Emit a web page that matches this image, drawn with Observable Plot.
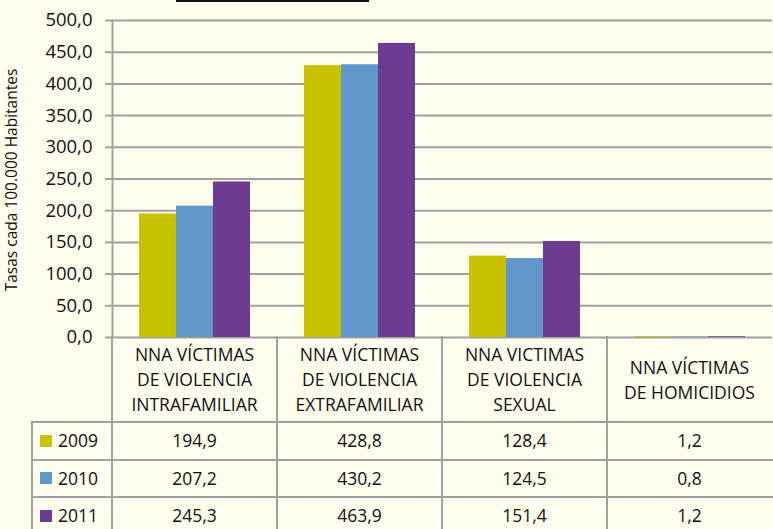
<!DOCTYPE html>
<html>
<head>
<meta charset="utf-8">
<script src="https://cdn.jsdelivr.net/npm/d3@7"></script>
<script src="https://cdn.jsdelivr.net/npm/@observablehq/plot@0.6"></script>
<style>
  html, body { margin: 0; padding: 0; background: #FFFDEE; }
  #wrap { position: relative; width: 773px; height: 529px; overflow: hidden; background: #FFFDEE; font-family: "Open Sans", sans-serif; color: #111; }
  #chart { position: absolute; left: 0; top: 0; }
  .cell { position: absolute; box-sizing: border-box; display: flex; align-items: center; justify-content: center; text-align: center; font-size: 17.5px; line-height: 25px; }
  .vline { position: absolute; width: 2px; background: #A0A0A0; }
  .hline { position: absolute; height: 2px; background: #A0A0A0; }
  #ylabel { position: absolute; left: 11px; top: 180px; transform: translate(-50%, -50%) rotate(-90deg); white-space: nowrap; font-size: 15.5px; }
  #titleline { position: absolute; left: 176px; top: 0; width: 193px; height: 2px; background: #111; }
</style>
</head>
<body>
<div id="wrap">
  <div id="titleline"></div>
  <div id="chart"></div>
  <div id="ylabel">Tasas cada 100.000 Habitantes</div>
</div>
<script>
const categories = [
  "NNA VÍCTIMAS DE VIOLENCIA INTRAFAMILIAR",
  "NNA VÍCTIMAS DE VIOLENCIA EXTRAFAMILIAR",
  "NNA VICTIMAS DE VIOLENCIA SEXUAL",
  "NNA VÍCTIMAS DE HOMICIDIOS"
];
const categoryLines = [
  ["NNA VÍCTIMAS", "DE VIOLENCIA", "INTRAFAMILIAR"],
  ["NNA VÍCTIMAS", "DE VIOLENCIA", "EXTRAFAMILIAR"],
  ["NNA VICTIMAS", "DE VIOLENCIA", "SEXUAL"],
  ["NNA VÍCTIMAS", "DE HOMICIDIOS"]
];
const years = ["2009", "2010", "2011"];
const values2009 = [194.9, 428.8, 128.4, 1.2];
const values2010 = [207.2, 430.2, 124.5, 0.8];
const values2011 = [245.3, 463.9, 151.4, 1.2];
const yTicks = [0, 50, 100, 150, 200, 250, 300, 350, 400, 450, 500];
const colors = ["#C9C200", "#6096C9", "#6D3C91"];

const series = [values2009, values2010, values2011];
const data = [];
years.forEach((yr, i) => categories.forEach((c, j) => data.push({cat: c, year: yr, value: series[i][j]})));

const fmt = v => v.toFixed(1).replace(".", ",");
const gray = "#A0A0A0";

const plot = Plot.plot({
  width: 773,
  height: 350,
  marginLeft: 110,
  marginRight: 0,
  marginTop: 20,
  marginBottom: 13,
  style: {background: "transparent", fontFamily: "Open Sans, sans-serif", color: "#111"},
  fx: {domain: categories, padding: 0, axis: null},
  x: {domain: years, paddingInner: 0, paddingOuter: 0.72, axis: null},
  y: {domain: [0, 500], axis: null},
  color: {domain: years, range: colors},
  marks: [
    Plot.gridY(yTicks, {stroke: gray, strokeOpacity: 1, strokeWidth: 2}),
    Plot.axisY({ticks: yTicks, tickSize: 7, tickPadding: 13, tickFormat: fmt, stroke: gray, strokeWidth: 2, fontSize: 18.5, label: null}),
    Plot.frame({anchor: "left", facetAnchor: "left", stroke: gray, strokeWidth: 2}),
    Plot.barY(data, {fx: "cat", x: "year", y: "value", fill: "year"})
  ]
});
document.getElementById("chart").appendChild(plot);

// data table aligned with the fx scale
const wrap = document.getElementById("wrap");
const fx = plot.scale("fx");
const bw = fx.bandwidth;
const top0 = 337, headerBottom = 422, rowH = 37.5;
const labelLeft = 32, axisX = 110;
function add(cls, style, html) {
  const d = document.createElement("div");
  d.className = cls;
  Object.assign(d.style, style);
  if (html != null) d.innerHTML = html;
  wrap.appendChild(d);
  return d;
}
categories.forEach((c, j) => {
  const x0 = fx.apply(c);
  add("cell", {left: x0 + "px", top: top0 + "px", width: bw + "px", height: (headerBottom - top0) + "px"},
      categoryLines[j].join("<br>"));
  add("vline", {left: (x0 - 1) + "px", top: (top0 - 1) + "px", height: (529 - top0 + 2) + "px"});
});
years.forEach((yr, i) => {
  const y0 = headerBottom + i * rowH;
  add("hline", {left: labelLeft + "px", top: (y0 - 1) + "px", width: (773 - labelLeft) + "px"});
  add("cell", {left: labelLeft + "px", top: y0 + "px", width: (axisX - labelLeft) + "px", height: rowH + "px", justifyContent: "flex-start", paddingLeft: "8px"},
      `<span style="display:inline-block;width:12px;height:12px;background:${colors[i]};margin-right:6px"></span>${yr}`);
  categories.forEach((c, j) => {
    add("cell", {left: fx.apply(c) + "px", top: y0 + "px", width: bw + "px", height: rowH + "px"}, fmt(series[i][j]));
  });
});
add("hline", {left: labelLeft + "px", top: (headerBottom + 3 * rowH - 1) + "px", width: (773 - labelLeft) + "px"});
add("vline", {left: (labelLeft - 1) + "px", top: (headerBottom - 1) + "px", height: (529 - headerBottom + 2) + "px"});
</script>
</body>
</html>
